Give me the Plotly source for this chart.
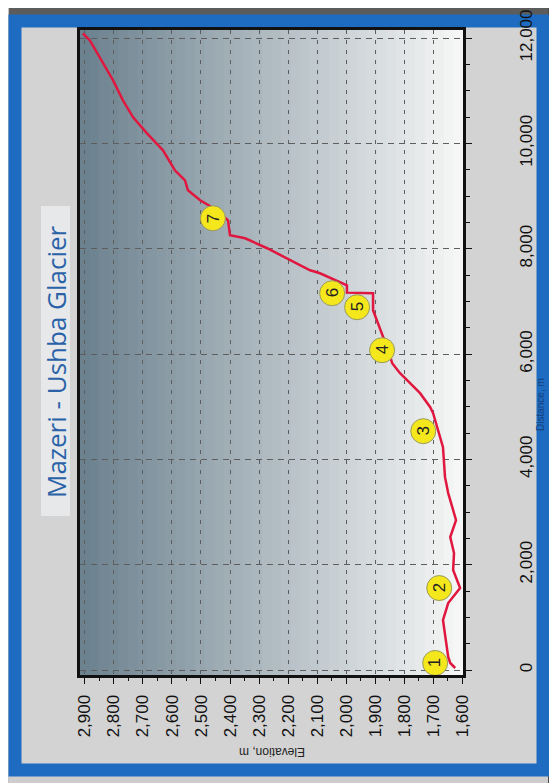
import plotly.graph_objects as go

# Profile (distance along route, m) and elevation (m)
distance = [38, 133, 247, 512, 949, 1271, 1556, 1898, 2220, 2524, 2846, 3359, 3662, 4231,
            4877, 4990, 5256, 5636, 5825, 6072, 6319, 6831, 7154, 7165, 7305, 7533, 7590,
            7780, 8008, 8197, 8254, 8539, 8729, 8918, 9108, 9298, 9488, 9867, 10190, 10493,
            10816, 11195, 11632, 11954, 12087]
elevation = [1624, 1641, 1648, 1655, 1666, 1648, 1607, 1631, 1628, 1641, 1621, 1648, 1659, 1666,
             1700, 1710, 1745, 1814, 1841, 1855, 1872, 1907, 1907, 1997, 1997, 2090, 2124,
             2193, 2272, 2348, 2400, 2407, 2445, 2503, 2545, 2555, 2590, 2631, 2686, 2734,
             2769, 2803, 2848, 2883, 2907]

# Waypoint label positions
wp_labels = ["1", "2", "3", "4", "5", "6", "7", "8"]
wp_distance = [133, 1556, 4535, 6072, 6888, 7154, 8577, 11803]
wp_elevation = [1693, 1679, 1734, 1876, 1962, 2048, 2459, 2959]

elev_ticks = list(range(1600, 3000, 100))
dist_ticks = list(range(0, 14000, 2000))

title_text = "Mazeri - Ushba Glacier"
x_title = "Elevation, m"
y_title = "Distance, m"

W, H = 557, 783
OFF = 8  # page body margin
# plot area in screen pixels
PL, PR, PT, PB = 80, 463, 30, 675


def px(x):
    return (x - PL) / (PR - PL)


def py(y):
    return (PB - y) / (PB - PT)


fig = go.Figure()

fig.add_trace(go.Scatter(
    x=elevation, y=distance, mode="lines",
    line=dict(color="#e0173f", width=2.5), hoverinfo="skip", showlegend=False))

fig.add_trace(go.Scatter(
    x=wp_elevation, y=wp_distance, mode="markers",
    marker=dict(size=25, color="#f4e81c", line=dict(color="#9a9a60", width=1)),
    cliponaxis=False, showlegend=False, hoverinfo="skip"))

annotations = []
for lab, xe, yd in zip(wp_labels, wp_elevation, wp_distance):
    annotations.append(dict(x=xe, y=yd, xref="x", yref="y", text=lab, showarrow=False,
                            textangle=-90, xanchor="center", yanchor="middle",
                            font=dict(size=17, color="#222", family="Liberation Sans")))

annotations.append(dict(x=px(56), y=py(362), xref="paper", yref="paper", text=title_text,
                        showarrow=False, textangle=-90, xanchor="center", yanchor="middle",
                        font=dict(size=26, color="#2a62a8", family="Open Sans")))
annotations.append(dict(x=px(272), y=py(752), xref="paper", yref="paper", text=x_title,
                        showarrow=False, textangle=180, xanchor="center", yanchor="middle",
                        font=dict(size=12, color="#222", family="Liberation Sans")))
annotations.append(dict(x=px(541), y=py(405), xref="paper", yref="paper", text=y_title,
                        showarrow=False, textangle=-90, xanchor="center", yanchor="middle",
                        font=dict(size=10, color="#163f7a", family="Liberation Sans")))

shapes = []
# photo surroundings
shapes.append(dict(type="rect", xref="paper", yref="paper", x0=px(0), x1=px(W + 10), y0=py(0), y1=py(16),
                   fillcolor="#5c5c5c", line=dict(width=0), layer="below"))
shapes.append(dict(type="rect", xref="paper", yref="paper", x0=px(0), x1=px(9), y0=py(0), y1=py(H + 10),
                   fillcolor="#c4c4c4", line=dict(width=0), layer="below"))
shapes.append(dict(type="rect", xref="paper", yref="paper", x0=px(548), x1=px(W + 10), y0=py(0), y1=py(H + 10),
                   fillcolor="#4a4a4a", line=dict(width=0), layer="below"))
# blue frame
shapes.append(dict(type="rect", xref="paper", yref="paper", x0=px(15), x1=px(543), y0=py(21), y1=py(770),
                   fillcolor="#d3d3d3", line=dict(color="#1d6cc2", width=13), layer="below"))
# title box
shapes.append(dict(type="rect", xref="paper", yref="paper", x0=px(41), x1=px(70), y0=py(206), y1=py(516),
                   fillcolor="#e6e8ea", line=dict(width=0), layer="below"))

# plot gradient
n = 40
c0 = (108, 130, 143)
c1 = (246, 246, 246)
for i in range(n):
    t = i / (n - 1)
    c = tuple(int(c0[k] + (c1[k] - c0[k]) * t) for k in range(3))
    shapes.append(dict(type="rect", xref="x domain", yref="y domain", x0=i / n, x1=(i + 1) / n + 0.002,
                       y0=0, y1=1, fillcolor="rgb(%d,%d,%d)" % c, line=dict(width=0), layer="below"))

fig.update_layout(
    width=W, height=H,
    margin=dict(l=PL - OFF, r=W - (PR - OFF), t=PT - OFF, b=H - (PB - OFF), autoexpand=False),
    paper_bgcolor="#cdcdcd", plot_bgcolor="rgba(0,0,0,0)",
    shapes=shapes, annotations=annotations, showlegend=False,
    font=dict(family="Liberation Sans", color="#111"),
)

fig.update_xaxes(
    range=[2917, 1597], tickvals=elev_ticks, tickformat=",", tickangle=-90,
    tickfont=dict(size=17, color="#111"), ticks="outside", ticklen=6, tickcolor="#111",
    minor=dict(dtick=50, ticks="outside", ticklen=3, tickcolor="#111"),
    showline=True, linecolor="#111", linewidth=3, mirror=True, automargin=False,
    showgrid=True, gridcolor="#5e5e5e", griddash="4px,6px", gridwidth=1,
    zeroline=False, ticklabelstandoff=4,
)
fig.update_yaxes(
    range=[-95, 12152], side="right", tickvals=dist_ticks, tickformat=",", tickangle=-90,
    tickfont=dict(size=17, color="#111"), ticks="outside", ticklen=6, tickcolor="#111",
    minor=dict(dtick=500, ticks="outside", ticklen=4, tickcolor="#111"),
    showline=True, linecolor="#111", linewidth=3, mirror=True, automargin=False,
    showgrid=True, gridcolor="#5e5e5e", griddash="6px,5px", gridwidth=1.2,
    zeroline=False, ticklabelstandoff=40,
)

fig.write_html("out.html")
